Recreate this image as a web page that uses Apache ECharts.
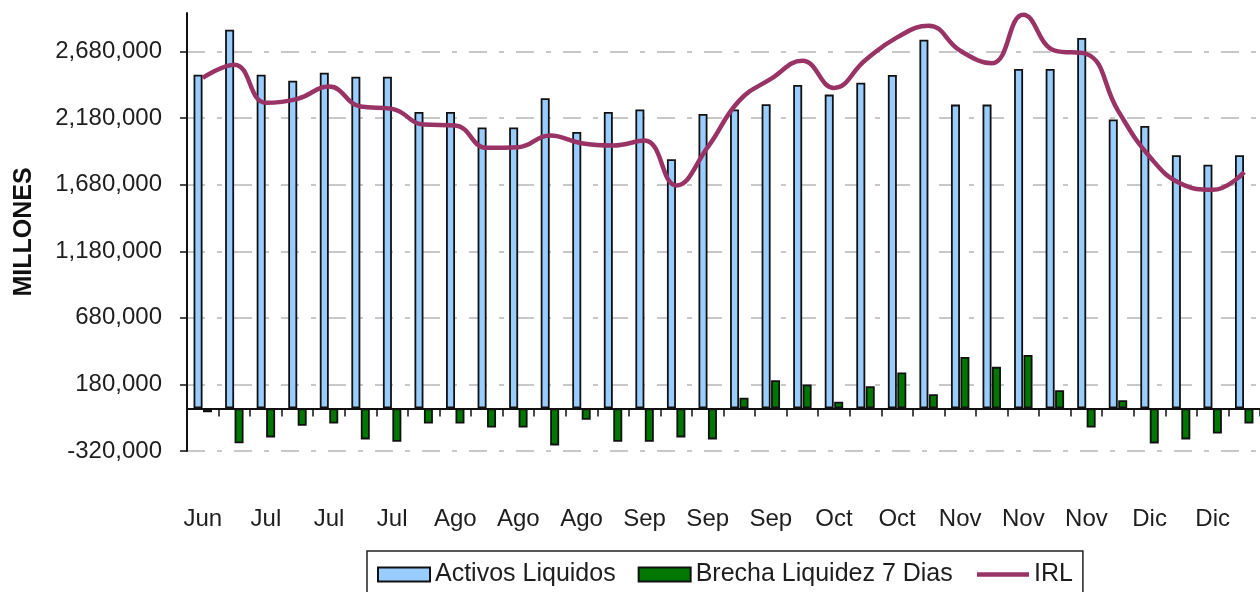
<!DOCTYPE html>
<html>
<head>
<meta charset="utf-8">
<script src="https://cdn.jsdelivr.net/npm/echarts@6/dist/echarts.min.js"></script>
<style>
html,body{margin:0;padding:0;background:#fff;}
#chart{width:1260px;height:592px;}
</style>
</head>
<body>
<div id="chart"></div>
<script>
const categories = ['Jun','Jun','Jul','Jul','Jul','Jul','Jul','Ago','Ago','Ago','Ago','Ago','Ago','Sep','Sep','Sep','Sep','Sep','Sep','Oct','Oct','Oct','Oct','Nov','Nov','Nov','Nov','Nov','Nov','Dic','Dic','Dic','Dic','Dic'];
const activosLiquidos = [2507000, 2845000, 2507000, 2462000, 2522000, 2492000, 2492000, 2227000, 2227000, 2110000, 2110000, 2330000, 2077000, 2227000, 2245000, 1872000, 2212000, 2245000, 2285000, 2430000, 2357000, 2447000, 2505000, 2770000, 2282000, 2282000, 2550000, 2550000, 2782000, 2170000, 2122000, 1902000, 1830000, 1902000];
const brechaLiquidez7Dias = [-28000, -262000, -218000, -130000, -113000, -233000, -250000, -113000, -113000, -143000, -143000, -278000, -85000, -250000, -250000, -218000, -233000, 80000, 212000, 180000, 50000, 167000, 270000, 107000, 387000, 312000, 402000, 137000, -143000, 62000, -263000, -233000, -188000, -113000];
const irl = [2482000, 2582000, 2295000, 2325000, 2417000, 2267000, 2250000, 2132000, 2125000, 1957000, 1962000, 2050000, 1992000, 1975000, 2012000, 1675000, 1962000, 2312000, 2475000, 2612000, 2407000, 2617000, 2787000, 2875000, 2687000, 2592000, 2957000, 2687000, 2662000, 2237000, 1892000, 1687000, 1642000, 1775000];
const yMin = -320000, yMax = 2970000, yStep = 500000;

function fmt(v){ return String(v).replace(/\B(?=(\d{3})+(?!\d))/g, ','); }

const chart = echarts.init(document.getElementById('chart'), null, {renderer:'canvas'});
const txt = '#1e1e1e';
chart.setOption({
  backgroundColor: '#ffffff',
  animation: false,
  textStyle: {fontFamily: '"Liberation Sans", Arial, sans-serif'},
  grid: {left: 187, right: -7, top: 13, bottom: 141, containLabel: false},
  legend: {
    left: 367, top: 551,
    padding: [11, 10, 10, 10],
    borderColor: '#222', borderWidth: 1.5,
    backgroundColor: '#fff',
    itemWidth: 52, itemHeight: 14, itemGap: 22,
    textStyle: {fontSize: 25, color: txt, fontFamily: '"Liberation Sans", Arial, sans-serif'},
    data: [
      {name: 'Activos Liquidos', icon: 'rect'},
      {name: 'Brecha Liquidez 7 Dias', icon: 'rect'},
      {name: 'IRL', itemStyle: {opacity: 0}, lineStyle: {width: 4.5, color: '#993366'}}
    ]
  },
  xAxis: {
    type: 'category',
    data: categories,
    boundaryGap: true,
    axisLine: {onZero: true, lineStyle: {color: '#111', width: 2}},
    axisTick: {show: true, interval: 0, length: 8, lineStyle: {color: '#111', width: 1.5}},
    axisLabel: {interval: 1, margin: 56, fontSize: 24, color: txt},
    splitLine: {show: false}
  },
  yAxis: {
    type: 'value',
    min: yMin, max: yMax, interval: yStep,
    name: 'MILLONES',
    nameLocation: 'middle',
    nameRotate: 90,
    nameGap: 150,
    nameTextStyle: {fontSize: 25, fontWeight: 'bold', color: '#111', fontFamily: '"Liberation Sans", Arial, sans-serif'},
    axisLine: {show: true, lineStyle: {color: '#111', width: 2}},
    axisTick: {show: true, length: 7, lineStyle: {color: '#111', width: 1.5}},
    axisLabel: {margin: 25, fontSize: 24, color: txt, formatter: fmt, showMaxLabel: false},
    splitLine: {show: true, showMaxLine: false, lineStyle: {color: '#c8c8c8', width: 2, type: [18, 12, 5, 12]}}
  },
  series: [
    {
      name: 'Activos Liquidos', type: 'bar', data: activosLiquidos,
      barWidth: 9, barGap: '5%',
      itemStyle: {color: '#99ccff', borderColor: '#111', borderWidth: 1.8}
    },
    {
      name: 'Brecha Liquidez 7 Dias', type: 'bar', data: brechaLiquidez7Dias,
      barWidth: 9,
      itemStyle: {color: '#007700', borderColor: '#111', borderWidth: 1.8}
    },
    {
      name: 'IRL', type: 'line', data: irl,
      smooth: 0.45, symbol: 'none', z: 5,
      lineStyle: {color: '#993366', width: 4.5},
      itemStyle: {color: '#993366'}
    }
  ]
});
</script>
</body>
</html>
